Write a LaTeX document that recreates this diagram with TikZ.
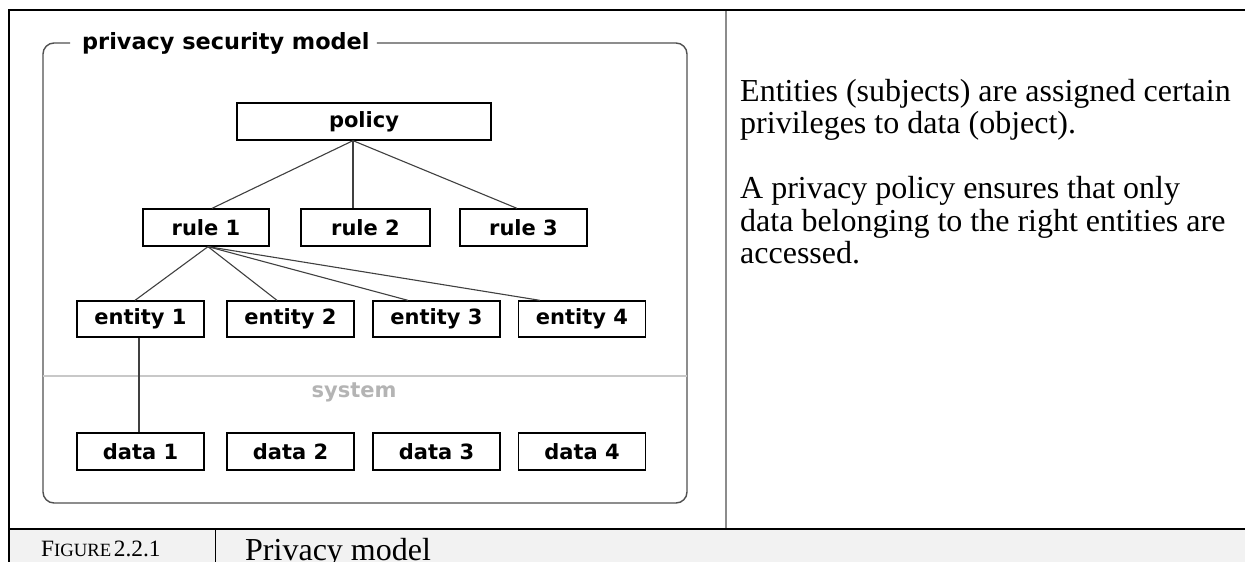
\documentclass[tikz,border=0pt]{standalone}
\usepackage{fontspec}
\setmainfont{Liberation Serif}
\newfontfamily\boxfont{DejaVu Sans}
\usetikzlibrary{calc}

\definecolor{linkgray}{HTML}{404040}
\definecolor{framegray}{HTML}{505050}
\definecolor{sysline}{HTML}{C8C8C8}
\definecolor{systext}{HTML}{B4B4B4}
\definecolor{captionfill}{HTML}{F2F2F2}
\definecolor{divider}{HTML}{8C8C8C}

\tikzset{
  boxlabel/.style={font=\boxfont\bfseries\fontsize{21}{21}\selectfont},
  itembox/.style={boxlabel, draw=black, line width=1.3pt, inner sep=0pt,
                  minimum width=127pt, minimum height=36pt},
  link/.style={draw=linkgray, line width=1.1pt},
  bodytext/.style={anchor=base west, inner sep=0pt,
                   font=\fontsize{32}{33}\selectfont},
}

\begin{document}
\begin{tikzpicture}[x=1pt, y=-1pt]
  % page area
  \fill[white] (0,0) rectangle (1245,562);
  \useasboundingbox (0,0) rectangle (1245,562);

  % caption row
  \fill[captionfill] (9,529) rectangle (1245,562);
  \draw[black, line width=1pt] (215,529) -- (215,562);
  \node[anchor=base west, inner sep=0pt] (fignum) at (41,556)
    {{\fontsize{23.4}{24}\selectfont F}{\fontsize{18.7}{24}\selectfont IGURE}
     {\fontsize{23.4}{24}\selectfont 2.2.1}};
  \node[anchor=base west, inner sep=0pt, font=\fontsize{32}{33}\selectfont]
    (figtitle) at (245,560) {Privacy model};

  % table rules
  \draw[black, line width=2.6pt] (9,10) -- (1245,10);
  \draw[black, line width=2.6pt] (9,529) -- (1245,529);
  \draw[black, line width=2pt] (9,9) -- (9,562);
  \draw[divider, line width=1.6pt] (726,11) -- (726,528);

  % model frame with its title
  \node[font=\boxfont\bfseries\fontsize{22.4}{22}\selectfont,
        anchor=west, inner sep=0pt] (title) at (82,43)
    {privacy security model};
  \draw[framegray, line width=1.4pt, rounded corners=11pt]
    ($(title.west)+(-12,0)$) -- (43,43) -- (43,503) -- (687,503)
    -- (687,43) -- ($(title.east)+(7,0)$);

  % boundary of the system
  \draw[sysline, line width=1.5pt] (43,376) -- (687,376);
  \node[boxlabel, text=systext] (system) at (354,392) {system};

  % policy and rules
  \node[itembox, minimum width=254pt, minimum height=37pt] (policy)
    at (364,121.5) {policy};
  \node[itembox, minimum width=126pt, minimum height=37pt] (rule1)
    at (206,227.5) {rule 1};
  \node[itembox, minimum width=129pt, minimum height=37pt] (rule2)
    at (365.5,227.5) {rule 2};
  \node[itembox, minimum width=127pt, minimum height=37pt] (rule3)
    at (523.5,227.5) {rule 3};

  % entities
  \node[itembox] (e1) at (140.5,319) {entity 1};
  \node[itembox] (e2) at (290.5,319) {entity 2};
  \node[itembox] (e3) at (436.5,319) {entity 3};
  \node[itembox] (e4) at (582,319) {entity 4};

  % data
  \node[itembox, minimum height=37pt] (d1) at (140.5,451.5) {data 1};
  \node[itembox, minimum height=37pt] (d2) at (290.5,451.5) {data 2};
  \node[itembox, minimum height=37pt] (d3) at (436.5,451.5) {data 3};
  \node[itembox, minimum height=37pt] (d4) at (582,451.5) {data 4};

  % connectors
  \coordinate (pfoot) at ($(policy.south)+(-11,0)$);
  \coordinate (rfoot) at ($(rule1.south)+(2,0)$);
  \draw[link] (pfoot) -- ($(rule1.north)+(6,0)$);
  \draw[link] (pfoot) -- (pfoot |- rule2.north);
  \draw[link] (pfoot) -- ($(rule3.north)+(-6.5,0)$);
  \draw[link] (rfoot) -- ($(e1.north)+(-5.5,0)$);
  \draw[link] (rfoot) -- ($(e2.north)+(-13.5,0)$);
  \draw[link] (rfoot) -- ($(e3.north)+(-28.5,0)$);
  \draw[link] (rfoot) -- ($(e4.north)+(-42,0)$);
  \draw[link] ($(e1.south)+(-1.5,0)$) -- ($(d1.north)+(-1.5,0)$);

  % explanation
  \node[bodytext] (t1) at (740,101) {Entities (subjects) are assigned certain};
  \node[bodytext] (t2) at (740,133.5) {privileges to data (object).};
  \node[bodytext] (t3) at (740,198.5) {A privacy policy ensures that only};
  \node[bodytext] (t4) at (740,231) {data belonging to the right entities are};
  \node[bodytext] (t5) at (740,263.5) {accessed.};
\end{tikzpicture}
\end{document}
